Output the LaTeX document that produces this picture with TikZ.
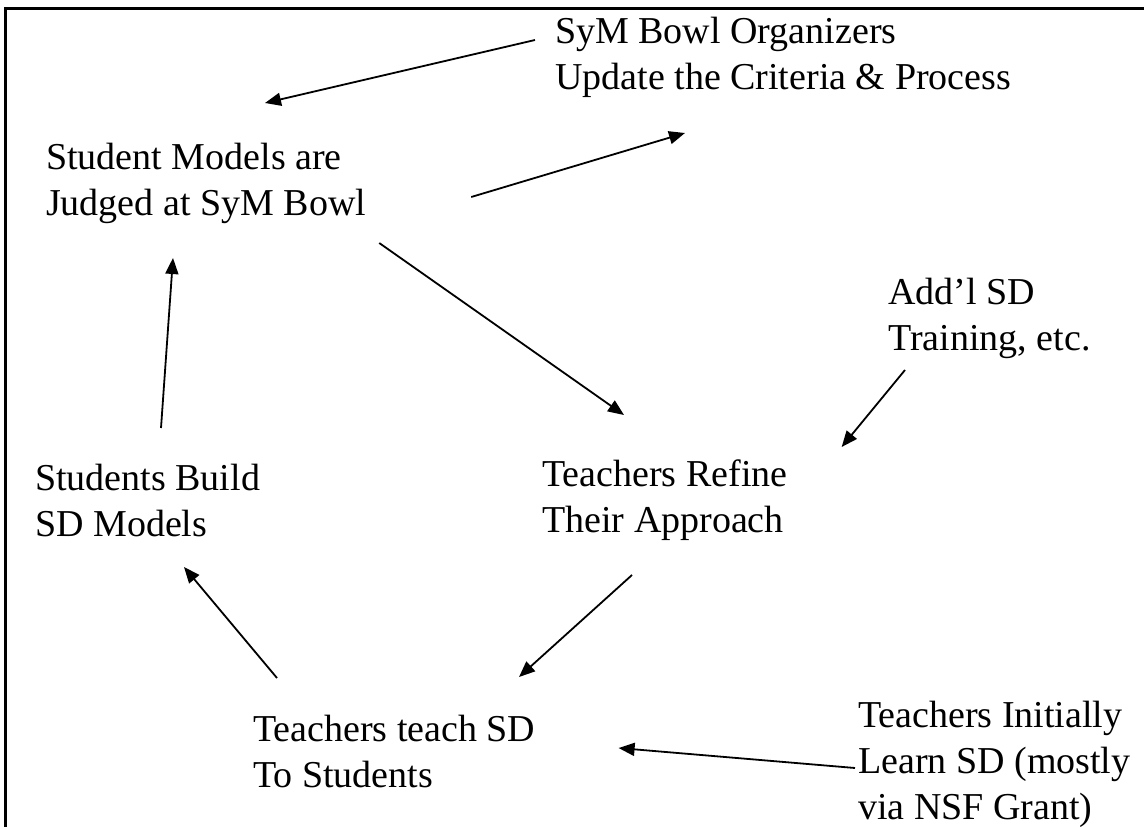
\documentclass[tikz,border=0pt]{standalone}
\usepackage{fontspec}
\setmainfont{Liberation Serif}
\usepackage{xcolor}
\usepackage{tikz}
\usetikzlibrary{calc}
\usetikzlibrary{arrows.meta}

\begin{document}
\begin{tikzpicture}[x=1pt, y=-1pt,
    box/.style={anchor=west, inner sep=0pt, align=left, font=\fontsize{38}{46}\selectfont},
    flow/.style={line width=1.8pt, -{Triangle[length=16pt, width=13pt]}}]
    \useasboundingbox (0,0) rectangle (1144,827);
    \draw[line width=3pt] (5,827) -- (5,8) -- (1144,8);
    \node[box] (org) at (555,57) {SyM Bowl Organizers\\Update the Criteria \& Process};
    \node[box] (judged) at (46,183) {Student Models are\\Judged at SyM Bowl};
    \node[box] (addl) at (888,318) {Add’l SD\\Training, etc.};
    \node[box] (build) at (35,500) {Students Build\\SD Models};
    \node[box] (refine) at (542,500) {Teachers Refine\\Their Approach};
    \node[box] (teach) at (253,751) {Teachers teach SD\\To Students};
    \node[box] (initial) at (858,764) {Teachers Initially\\Learn SD (mostly\\via NSF Grant)};
    \draw[flow] ($(org.west)+(-20,-17)$) -- ($(judged.west)+(219,-80)$);
    \draw[flow] ($(judged.east)+(105,14)$) -- ($(org.west)+(130,76)$);
    \draw[flow] ($(judged.east)+(13,60)$) -- ($(refine.west)+(82,-85)$);
    \draw[flow] ($(addl.west)+(17,52)$) -- ($(refine.east)+(54,-53)$);
    \draw[flow] ($(refine.west)+(90,75)$) -- ($(teach.west)+(266,-74)$);
    \draw[flow] ($(teach.west)+(24,-73)$) -- ($(build.west)+(149,67)$);
    \draw[flow] ($(build.west)+(126,-72)$) -- ($(judged.west)+(127,75)$);
    \draw[flow] ($(initial.west)+(-3,4)$) -- ($(teach.east)+(83,-3)$);
\end{tikzpicture}
\end{document}
